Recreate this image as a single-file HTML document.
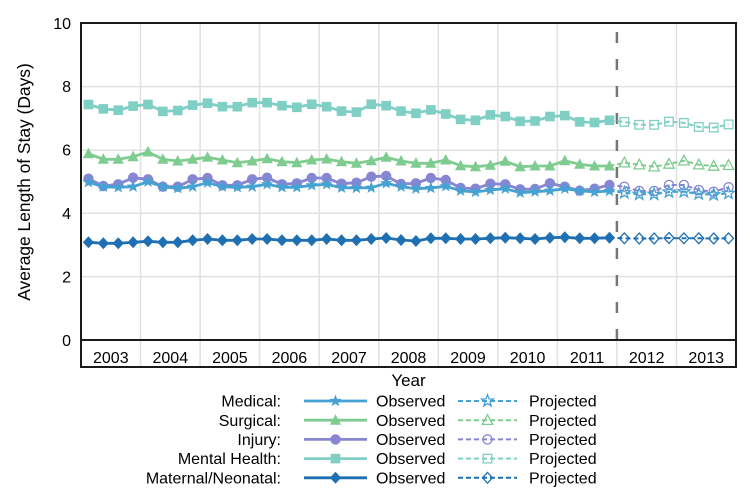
<!DOCTYPE html>
<html>
<head>
<meta charset="utf-8">
<style>
  html, body { margin:0; padding:0; background:#fff; }
  body { width:750px; height:500px; overflow:hidden; }
  svg { display:block; font-family:"Liberation Sans", Arial, sans-serif; }
</style>
</head>
<body>
<svg width="750" height="500" viewBox="0 0 750 500" xmlns="http://www.w3.org/2000/svg">
  <defs>
    <!-- filled markers -->
    <marker id="mStar" viewBox="-8 -8 16 16" refX="0" refY="0" markerWidth="16" markerHeight="16" markerUnits="userSpaceOnUse" overflow="visible">
      <path d="M0,-6.5 L1.59,-2.18 L6.18,-2.01 L2.57,0.83 L3.82,5.26 L0,2.7 L-3.82,5.26 L-2.57,0.83 L-6.18,-2.01 L-1.59,-2.18 Z" fill="#45a2d2"/>
    </marker>
    <marker id="mTri" viewBox="-8 -8 16 16" refX="0" refY="0" markerWidth="16" markerHeight="16" markerUnits="userSpaceOnUse" overflow="visible">
      <path d="M0,-6 L5.6,4.5 L-5.6,4.5 Z" fill="#7fcc90"/>
    </marker>
    <marker id="mCirc" viewBox="-8 -8 16 16" refX="0" refY="0" markerWidth="16" markerHeight="16" markerUnits="userSpaceOnUse" overflow="visible">
      <circle cx="0" cy="0" r="5.2" fill="#8686d2"/>
    </marker>
    <marker id="mSq" viewBox="-8 -8 16 16" refX="0" refY="0" markerWidth="16" markerHeight="16" markerUnits="userSpaceOnUse" overflow="visible">
      <rect x="-4.8" y="-4.8" width="9.6" height="9.6" fill="#7fcfc4"/>
    </marker>
    <marker id="mDia" viewBox="-8 -8 16 16" refX="0" refY="0" markerWidth="16" markerHeight="16" markerUnits="userSpaceOnUse" overflow="visible">
      <path d="M0,-6 L5.6,0 L0,6 L-5.6,0 Z" fill="#1f70b2"/>
    </marker>
    <!-- hollow markers -->
    <marker id="hStar" viewBox="-8 -8 16 16" refX="0" refY="0" markerWidth="16" markerHeight="16" markerUnits="userSpaceOnUse" overflow="visible">
      <path d="M0,-6.2 L1.52,-2.08 L5.9,-1.92 L2.45,0.79 L3.64,5.02 L0,2.58 L-3.64,5.02 L-2.45,0.79 L-5.9,-1.92 L-1.52,-2.08 Z" fill="none" stroke="#45a2d2" stroke-width="1.3"/>
    </marker>
    <marker id="hTri" viewBox="-8 -8 16 16" refX="0" refY="0" markerWidth="16" markerHeight="16" markerUnits="userSpaceOnUse" overflow="visible">
      <path d="M0,-5.5 L5.2,4.2 L-5.2,4.2 Z" fill="none" stroke="#7fcc90" stroke-width="1.3"/>
    </marker>
    <marker id="hCirc" viewBox="-8 -8 16 16" refX="0" refY="0" markerWidth="16" markerHeight="16" markerUnits="userSpaceOnUse" overflow="visible">
      <circle cx="0" cy="0" r="4.6" fill="none" stroke="#8686d2" stroke-width="1.3"/>
    </marker>
    <marker id="hSq" viewBox="-8 -8 16 16" refX="0" refY="0" markerWidth="16" markerHeight="16" markerUnits="userSpaceOnUse" overflow="visible">
      <rect x="-4.3" y="-4.3" width="8.6" height="8.6" fill="none" stroke="#7fcfc4" stroke-width="1.3"/>
    </marker>
    <marker id="hDia" viewBox="-8 -8 16 16" refX="0" refY="0" markerWidth="16" markerHeight="16" markerUnits="userSpaceOnUse" overflow="visible">
      <path d="M0,-5.4 L5,0 L0,5.4 L-5,0 Z" fill="none" stroke="#1f70b2" stroke-width="1.3"/>
    </marker>
  </defs>

  <rect x="0" y="0" width="750" height="500" fill="#fff"/>

  <!-- gridlines -->
  <g stroke="#e0e0e0" stroke-width="1.5">
    <line x1="81" y1="86.6" x2="736" y2="86.6"/>
    <line x1="81" y1="150.2" x2="736" y2="150.2"/>
    <line x1="81" y1="213.2" x2="736" y2="213.2"/>
    <line x1="81" y1="276.6" x2="736" y2="276.6"/>
    <line x1="140.5" y1="23" x2="140.5" y2="367"/>
    <line x1="200.1" y1="23" x2="200.1" y2="367"/>
    <line x1="259.6" y1="23" x2="259.6" y2="367"/>
    <line x1="319.2" y1="23" x2="319.2" y2="367"/>
    <line x1="378.7" y1="23" x2="378.7" y2="367"/>
    <line x1="438.3" y1="23" x2="438.3" y2="367"/>
    <line x1="497.8" y1="23" x2="497.8" y2="367"/>
    <line x1="557.4" y1="23" x2="557.4" y2="367"/>
    <line x1="616.9" y1="340" x2="616.9" y2="367"/>
    <line x1="676.5" y1="23" x2="676.5" y2="367"/>
  </g>

  <!-- dashed divider -->
  <line x1="616.9" y1="32" x2="616.9" y2="340" stroke="#777" stroke-width="2.5" stroke-dasharray="11 16"/>

  <!-- Mental Health -->
  <polyline fill="none" stroke="#7fcfc4" stroke-width="2.8" stroke-linejoin="round"
    marker-start="url(#mSq)" marker-mid="url(#mSq)" marker-end="url(#mSq)"
    points="88.44,104.5 103.33,108.9 118.22,110.2 133.10,106.1 147.99,104.5 162.88,111.4 177.76,110.5 192.65,105.1 207.53,103.2 222.42,106.7 237.31,106.7 252.19,102.6 267.08,102.6 281.97,105.7 296.85,107.3 311.74,104.2 326.63,106.7 341.51,111.1 356.40,112.1 371.28,104.2 386.17,105.7 401.06,111.1 415.94,113.3 430.83,109.9 445.72,114.0 460.60,119.4 475.49,120.3 490.38,114.9 505.26,116.5 520.15,121.3 535.03,121.0 549.92,116.5 564.81,115.6 579.69,121.9 594.58,122.5 609.47,120.3"/>
  <polyline fill="none" stroke="#7fcfc4" stroke-width="2" stroke-dasharray="5 3"
    marker-mid="url(#hSq)" marker-end="url(#hSq)"
    points="609.47,120.3 624.35,121.9 639.24,124.8 654.13,124.8 669.01,121.6 683.90,122.9 698.78,127.0 713.67,127.6 728.56,124.4"/>

  <!-- Surgical -->
  <polyline fill="none" stroke="#7fcc90" stroke-width="2.8" stroke-linejoin="round"
    marker-start="url(#mTri)" marker-mid="url(#mTri)" marker-end="url(#mTri)"
    points="88.44,153.7 103.33,159.3 118.22,159.3 133.10,156.7 147.99,152 162.88,159.3 177.76,161 192.65,159.3 207.53,157.3 222.42,160 237.31,162.7 252.19,161 267.08,158.7 281.97,161.7 296.85,162.7 311.74,160 326.63,159 341.51,161.7 356.40,163.3 371.28,160.7 386.17,157.3 401.06,161 415.94,163.3 430.83,163.3 445.72,160 460.60,165.7 475.49,166.7 490.38,165.3 505.26,161.3 520.15,166.7 535.03,166 549.92,166 564.81,160.7 579.69,164.3 594.58,166 609.47,166"/>
  <polyline fill="none" stroke="#7fcc90" stroke-width="2" stroke-dasharray="5 3"
    marker-mid="url(#hTri)" marker-end="url(#hTri)"
    points="609.47,166 624.35,162.7 639.24,164.7 654.13,166.7 669.01,164 683.90,160.7 698.78,164.7 713.67,166 728.56,165.3"/>

  <!-- Injury -->
  <polyline fill="none" stroke="#8686d2" stroke-width="2.8" stroke-linejoin="round"
    marker-start="url(#mCirc)" marker-mid="url(#mCirc)" marker-end="url(#mCirc)"
    points="88.44,178.7 103.33,186 118.22,184.3 133.10,177.7 147.99,179.3 162.88,186.7 177.76,186.7 192.65,179.3 207.53,178 222.42,185.3 237.31,185.3 252.19,179.3 267.08,177.7 281.97,184.3 296.85,183.3 311.74,178 326.63,178 341.51,183.7 356.40,182.7 371.28,176.7 386.17,176 401.06,184 415.94,183.3 430.83,178 445.72,180 460.60,188 475.49,188.7 490.38,183.7 505.26,184.3 520.15,189.3 535.03,189 549.92,183.3 564.81,186.7 579.69,190.7 594.58,188.7 609.47,185"/>
  <polyline fill="none" stroke="#8686d2" stroke-width="2" stroke-dasharray="5 3"
    marker-mid="url(#hCirc)" marker-end="url(#hCirc)"
    points="609.47,185 624.35,186.7 639.24,191 654.13,191 669.01,185 683.90,185 698.78,190 713.67,191.7 728.56,187.3"/>

  <!-- Medical -->
  <polyline fill="none" stroke="#45a2d2" stroke-width="2.8" stroke-linejoin="round"
    marker-start="url(#mStar)" marker-mid="url(#mStar)" marker-end="url(#mStar)"
    points="88.44,182.3 103.33,186.7 118.22,187.3 133.10,186.7 147.99,181.7 162.88,186.7 177.76,188.3 192.65,186.7 207.53,182.7 222.42,186.7 237.31,187.3 252.19,186.7 267.08,184.3 281.97,187.3 296.85,187.3 311.74,185.3 326.63,184.3 341.51,187.7 356.40,188 371.28,187.7 386.17,183.3 401.06,186.7 415.94,188.7 430.83,188 445.72,186.3 460.60,190.7 475.49,192 490.38,190 505.26,188.7 520.15,192.7 535.03,191.7 549.92,190.7 564.81,188.7 579.69,190.7 594.58,192 609.47,191"/>
  <polyline fill="none" stroke="#45a2d2" stroke-width="2" stroke-dasharray="5 3"
    marker-mid="url(#hStar)" marker-end="url(#hStar)"
    points="609.47,191 624.35,192.7 639.24,194.3 654.13,194.3 669.01,192 683.90,191.7 698.78,194 713.67,194.7 728.56,193.3"/>

  <!-- Maternal/Neonatal -->
  <polyline fill="none" stroke="#1f70b2" stroke-width="2.8" stroke-linejoin="round"
    marker-start="url(#mDia)" marker-mid="url(#mDia)" marker-end="url(#mDia)"
    points="88.44,242.3 103.33,243.3 118.22,243.3 133.10,242.3 147.99,241.3 162.88,242.3 177.76,242.3 192.65,240.3 207.53,239 222.42,240.3 237.31,240.3 252.19,239 267.08,239 281.97,240.3 296.85,240.3 311.74,240.3 326.63,239 341.51,240.3 356.40,240.3 371.28,239 386.17,238 401.06,240 415.94,241 430.83,238.3 445.72,238.3 460.60,239 475.49,239 490.38,238.3 505.26,237.7 520.15,238.3 535.03,239 549.92,237.7 564.81,237.3 579.69,238.3 594.58,238.3 609.47,237.7"/>
  <polyline fill="none" stroke="#1f70b2" stroke-width="2" stroke-dasharray="5 3"
    marker-mid="url(#hDia)" marker-end="url(#hDia)"
    points="609.47,237.7 624.35,238.3 639.24,238.5 654.13,238.5 669.01,238 683.90,238.3 698.78,238.3 713.67,238.5 728.56,238.3"/>

  <!-- frame -->
  <g stroke="#1a1a1a" stroke-width="2" fill="none">
    <rect x="81" y="23" width="655" height="344"/>
    <line x1="81" y1="340" x2="736" y2="340"/>
  </g>

  <!-- y tick labels -->
  <g font-size="16" fill="#000" text-anchor="end">
    <text x="71" y="28.8">10</text>
    <text x="71" y="92.2">8</text>
    <text x="71" y="155.6">6</text>
    <text x="71" y="219">4</text>
    <text x="71" y="282.4">2</text>
    <text x="71" y="345.8">0</text>
  </g>

  <!-- x year labels -->
  <g font-size="16" fill="#000" text-anchor="middle">
    <text x="110.8" y="363">2003</text>
    <text x="170.3" y="363">2004</text>
    <text x="229.9" y="363">2005</text>
    <text x="289.4" y="363">2006</text>
    <text x="349" y="363">2007</text>
    <text x="408.5" y="363">2008</text>
    <text x="468" y="363">2009</text>
    <text x="527.6" y="363">2010</text>
    <text x="587.1" y="363">2011</text>
    <text x="646.7" y="363">2012</text>
    <text x="706.2" y="363">2013</text>
  </g>

  <!-- axis titles -->
  <text x="408.5" y="385.8" font-size="17" text-anchor="middle" fill="#000">Year</text>
  <text transform="translate(30,182) rotate(-90)" font-size="17.4" text-anchor="middle" fill="#000">Average Length of Stay (Days)</text>

  <!-- legend -->
  <g font-size="16" fill="#000">
    <text x="281" y="406.6" text-anchor="end">Medical:</text>
    <text x="281" y="425.8" text-anchor="end">Surgical:</text>
    <text x="281" y="445" text-anchor="end">Injury:</text>
    <text x="281" y="464.2" text-anchor="end">Mental Health:</text>
    <text x="281" y="483.4" text-anchor="end">Maternal/Neonatal:</text>

    <text x="376" y="406.6">Observed</text>
    <text x="376" y="425.8">Observed</text>
    <text x="376" y="445">Observed</text>
    <text x="376" y="464.2">Observed</text>
    <text x="376" y="483.4">Observed</text>

    <text x="529" y="406.6">Projected</text>
    <text x="529" y="425.8">Projected</text>
    <text x="529" y="445">Projected</text>
    <text x="529" y="464.2">Projected</text>
    <text x="529" y="483.4">Projected</text>
  </g>

  <g fill="none" stroke-width="2.8">
    <polyline points="304,401 335.5,401 367,401" stroke="#45a2d2" marker-mid="url(#mStar)"/>
    <polyline points="304,420.2 335.5,420.2 367,420.2" stroke="#7fcc90" marker-mid="url(#mTri)"/>
    <polyline points="304,439.4 335.5,439.4 367,439.4" stroke="#8686d2" marker-mid="url(#mCirc)"/>
    <polyline points="304,458.6 335.5,458.6 367,458.6" stroke="#7fcfc4" marker-mid="url(#mSq)"/>
    <polyline points="304,477.8 335.5,477.8 367,477.8" stroke="#1f70b2" marker-mid="url(#mDia)"/>
  </g>
  <g fill="none" stroke-width="2" stroke-dasharray="5 3">
    <polyline points="458,401 487.5,401 517,401" stroke="#45a2d2" marker-mid="url(#hStar)"/>
    <polyline points="458,420.2 487.5,420.2 517,420.2" stroke="#7fcc90" marker-mid="url(#hTri)"/>
    <polyline points="458,439.4 487.5,439.4 517,439.4" stroke="#8686d2" marker-mid="url(#hCirc)"/>
    <polyline points="458,458.6 487.5,458.6 517,458.6" stroke="#7fcfc4" marker-mid="url(#hSq)"/>
    <polyline points="458,477.8 487.5,477.8 517,477.8" stroke="#1f70b2" marker-mid="url(#hDia)"/>
  </g>
</svg>
</body>
</html>
